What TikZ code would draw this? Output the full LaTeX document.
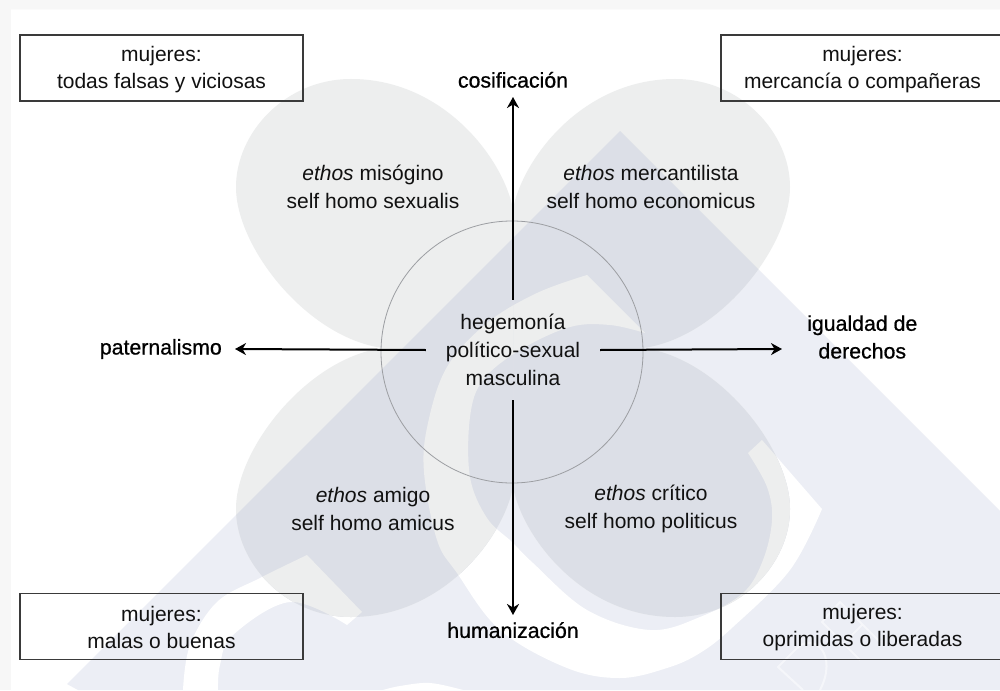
\documentclass[tikz,border=0pt]{standalone}
\usepackage{fontspec}
\setmainfont{Liberation Sans}
\newfontfamily\labfont[FakeBold=0.7]{Liberation Sans}
\usetikzlibrary{arrows.meta}
\definecolor{wm}{HTML}{ECEEF5}
\definecolor{petalc}{HTML}{EDEEEE}
\definecolor{overlapc}{HTML}{DCDFE7}
\definecolor{inkc}{HTML}{111111}
\definecolor{boxline}{HTML}{3A3A3A}
\definecolor{ringc}{HTML}{9C9EA2}
\tikzset{
  txt/.style={font=\fontsize{21}{27.7}\selectfont, text=inkc, align=center, inner sep=0pt},
  womanbox/.style={txt, draw=boxline, line width=1.1pt, minimum width=283pt, minimum height=66pt},
  axislabel/.style={font=\labfont\fontsize{21.3}{27.7}\selectfont, text=black, align=center, inner sep=0pt},
  axisarrow/.style={draw=black, line width=2pt, -{Stealth[length=11pt,width=12pt,inset=3.5pt]}},
  hubnode/.style={txt, minimum width=174pt, minimum height=100pt},
  ringnode/.style={circle, draw=ringc, line width=0.8pt, minimum size=262pt, inner sep=0pt}
}
% watermark, in the two colours given
\newcommand{\wmshapes}[2]{%
\fill[#1] (620,131) -- (1000,511) -- (1000,690) -- (78,690) -- (67,684) -- cycle;
\fill[#2] (587,275) -- (645,333)
  -- plot[smooth,tension=0.6] coordinates {(645,333) (610,325) (570,327) (520,350) (483,380) (470,417) (470,477) (487,518) (512,542) (533,563) (587,610) (650,630) (700,617) (743,593) (763,560) (772,520) (767,487) (748,453)}
  -- (762,440) -- (822,509)
  -- plot[smooth,tension=0.6] coordinates {(822,509) (790,570) (733,627) (700,653) (667,668) (620,678) (567,668) (500,630) (457,573) (437,540) (424,472) (428,423) (447,367) (487,323) (537,293) (587,275)}
  -- cycle;
\fill[#2] (307,555) -- plot[smooth,tension=0.6] coordinates {(307,555) (260,578) (217,602) (190,645) (183,690)}
  -- plot[smooth,tension=0.6] coordinates {(218,690) (220,665) (233,635) (290,602) (347,625)}
  -- (362,612) -- cycle;
\fill[#2] plot[smooth,tension=0.6] coordinates {(383,690) (400,686) (430,683) (463,690)} -- cycle;
}
% one petal; #1, #2 = +1/-1 for the quadrant
\newcommand{\petalpath}[2]{(513,348) -- ({513},{348-#2*139})
  .. controls ({513+#1*10},{348-#2*190}) and ({513+#1*70},{348-#2*269}) .. ({513+#1*162},{348-#2*269})
  .. controls ({513+#1*228},{348-#2*269}) and ({513+#1*277},{348-#2*215}) .. ({513+#1*277},{348-#2*161})
  .. controls ({513+#1*277},{348-#2*100}) and ({513+#1*205},{348-#2*10}) .. ({513+#1*130},{348}) -- cycle}
\newcommand{\petalfill}[2]{\begin{scope}\clip \petalpath{#1}{#2};
  \fill[petalc] (0,0) rectangle (1000,690);
  \wmshapes{overlapc}{petalc}
\end{scope}}
\begin{document}
\begin{tikzpicture}[x=1pt,y=-1pt]
\useasboundingbox (0,0) rectangle (1000,690);
% page and shadow
\fill[white] (0,0) rectangle (1000,690);
\fill[black!3] (0,0) rectangle (1000,9);
\fill[black!3] (0,0) rectangle (11,690);
\fill[black!1.5] (11,9) rectangle (1000,10);
% watermark
\wmshapes{wm}{white}
\draw[white,line width=2pt,opacity=.5] (803,690) -- (778,667) -- (797,648) .. controls (815,632) and (838,655) .. (820,690);
\draw[white,line width=2pt,opacity=.5] (860,660) -- (822,622) -- (840,602) -- (880,642);
\draw[white,line width=2pt,opacity=.5] (845,642) -- (862,625);
% petals
\petalfill{1}{1}
\petalfill{-1}{1}
\petalfill{1}{-1}
\petalfill{-1}{-1}
% ring and hub
\node[ringnode] (ring) at (512,352) {};
\node[hubnode] (hub) at (513,350) {hegemonía\\político-sexual\\masculina};
% boxes
\node[womanbox] (boxtl) at (161.5,68) {};
\node[txt] (txttl) at (161.5,69.5) {mujeres:\\todas falsas y viciosas};
\node[womanbox] (boxtr) at (862.5,68) {};
\node[txt] (txttr) at (862.5,69.5) {mujeres:\\mercancía o compañeras};
\node[womanbox] (boxbl) at (161.5,626.5) {};
\node[txt] (txtbl) at (161.5,627.5) {mujeres:\\malas o buenas};
\node[womanbox] (boxbr) at (862.5,626.5) {};
\node[txt] (txtbr) at (862.5,627.5) {mujeres:\\oprimidas o liberadas};
% petal texts
\node[txt] (tl) at (373,187) {\textit{ethos} misógino\\self homo sexualis};
\node[txt] (tr) at (651,187) {\textit{ethos} mercantilista\\self homo economicus};
\node[txt] (bl) at (373,509) {\textit{ethos} amigo\\self homo amicus};
\node[txt] (br) at (651,509) {\textit{ethos} crítico\\self homo politicus};
% axis labels
\node[axislabel,anchor=south,inner ysep=9pt] (cosif) at (513,97) {cosificación};
\node[axislabel,anchor=north,inner ysep=7pt] (human) at (513,615) {humanización};
\node[axislabel,anchor=east,inner xsep=13pt] (pater) at (235,349) {paternalismo};
\node[axislabel,anchor=west,inner xsep=25pt] (igual) at (782,337) {igualdad de\\derechos};
\coordinate (igualpt) at (782,349);
% connectors
\draw[axisarrow] (hub.north) -- (cosif.south);
\draw[axisarrow] (hub.south) -- (human.north);
\draw[axisarrow] (hub.west) -- (pater.east);
\draw[axisarrow] (hub.east) -- (igualpt);
\end{tikzpicture}
\end{document}
